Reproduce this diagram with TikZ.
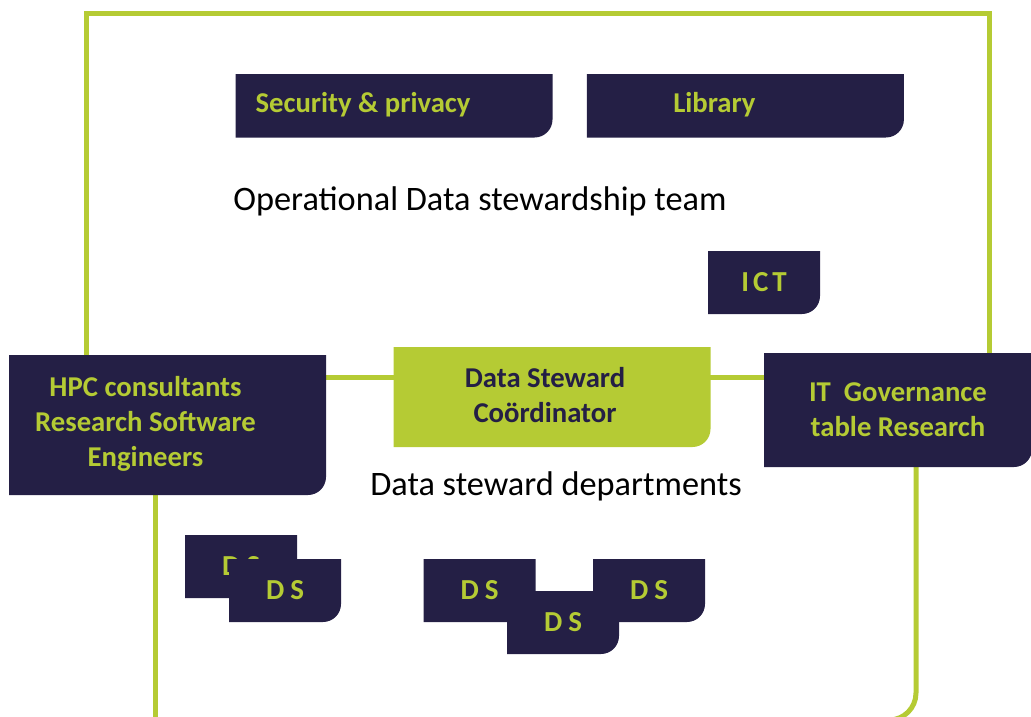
\documentclass[tikz,border=0pt]{standalone}
\usepackage{fontspec}
\setmainfont{Carlito}
\usetikzlibrary{positioning,calc,backgrounds}
\definecolor{navy}{RGB}{36,31,69}
\definecolor{lime}{RGB}{181,203,52}
\tikzset{
  tile/.style={inner sep=0pt,minimum width=317pt,minimum height=63pt,
    text=lime,align=center,font=\fontsize{28.7}{35}\selectfont\bfseries,
    path picture={\fill[#1,rounded corners=18pt]
      ([shift={(-40pt,40pt)}]path picture bounding box.north west)
      rectangle (path picture bounding box.south east);}},
  tile/.default=navy,
  dstile/.style={tile,minimum width=112pt,font=\fontsize{29}{35}\selectfont\bfseries},
  tiletext/.style={text=lime,align=center,font=\fontsize{28.7}{35}\selectfont\bfseries},
  caption/.style={font=\fontsize{34.3}{40}\selectfont},
  frame/.style={draw=lime,line width=5pt},
  link/.style={draw=lime,line width=5pt}
}
\begin{document}
\begin{tikzpicture}[x=1pt,y=-1pt]
  \useasboundingbox (0,0) rectangle (1031,716);
  % top row
  \node[tile] (sec) at (394,106) {};
  \node[tile,right=34pt of sec] (lib) {};
  \node[tiletext] (sectext) at ($(sec.center)+(-31,-1)$) {Security \& privacy};
  \node[tiletext] (libtext) at ($(lib.center)+(-31,-1)$) {Library};
  \node[caption] (ops) at (480,201) {Operational Data stewardship team};
  \node[dstile] (ict) at (764,282.5) {I\kern4pt C\kern4pt T};
  % middle row
  \node[tile=lime,minimum height=100pt] (dsc) at (552,397) {};
  \node[tiletext,text=navy] (dsctext) at ($(dsc.center)+(-7,-2)$) {Data Steward\\Coördinator};
  \node[tile,minimum height=140pt] (hpc) at (167.5,425) {};
  \node[tiletext] (hpctext) at ($(hpc.center)+(-22,-1)$) {HPC consultants\\Research Software\\Engineers};
  \node[tile,minimum width=268pt,minimum height=114pt] (itgov) at (898,410) {IT~~Governance\\table Research};
  \node[caption] (deps) at (556,486) {Data steward departments};
  % departments
  \node[dstile] (ds1) at (241,566.5) {D\kern6pt S};
  \node[dstile] (ds2) at (285,590.5) {D\kern6pt S};
  \node[dstile] (ds3) at (479.5,590.5) {D\kern6pt S};
  \node[dstile] (ds5) at (649,590.5) {D\kern6pt S};
  \node[dstile] (ds4) at (563,622.5) {D\kern6pt S};
  % frame and links
  \begin{scope}[on background layer]
    \coordinate (tl) at (86,13);
    \coordinate (tr) at (989,13);
    \coordinate (bl) at (155,720);
    \coordinate (br) at (916,720);
    \draw[frame] (hpc.north -| tl) -- (tl) -- (tr) -- (tr |- itgov.north);
    \draw[frame] (hpc.south -| bl) -- (bl);
    \draw[frame,rounded corners=27pt] (itgov.south -| br) -- (br) -- (bl);
    \coordinate (lnk) at ([yshift=-31pt]dsc.north);
    \draw[link] (lnk -| hpc.east) -- (lnk -| itgov.west);
  \end{scope}
\end{tikzpicture}
\end{document}
